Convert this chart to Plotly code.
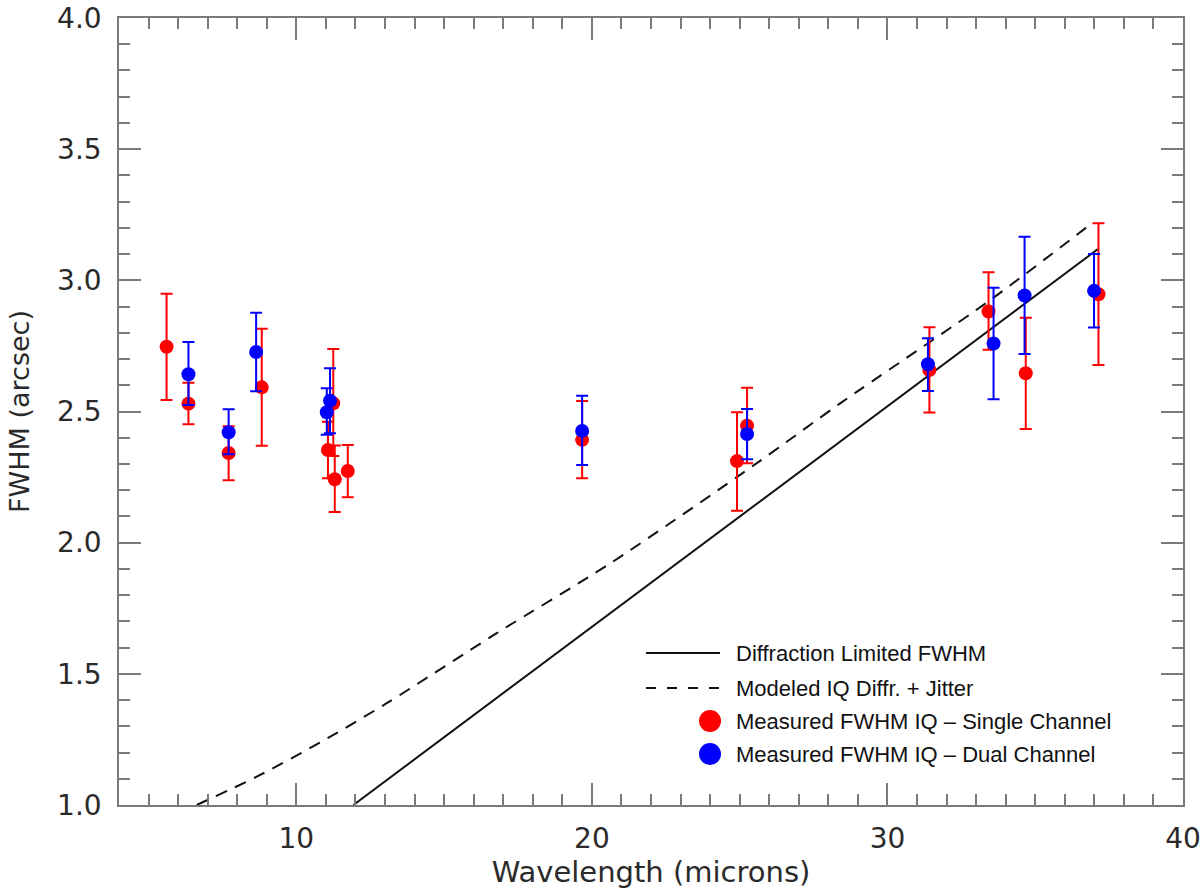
import plotly.graph_objects as go

# ---- data ----
single_x = [5.61, 6.35, 7.71, 8.83, 11.07, 11.25, 11.30, 11.74, 19.67, 24.91, 25.25, 31.42, 33.42, 34.68, 37.14]
single_y = [2.747, 2.530, 2.342, 2.592, 2.353, 2.531, 2.242, 2.273, 2.392, 2.311, 2.446, 2.658, 2.881, 2.646, 2.947]
single_hi = [2.949, 2.610, 2.444, 2.815, 2.461, 2.738, 2.370, 2.372, 2.540, 2.497, 2.591, 2.821, 3.031, 2.857, 3.218]
single_lo = [2.544, 2.451, 2.238, 2.369, 2.246, 2.330, 2.117, 2.173, 2.246, 2.122, 2.303, 2.496, 2.735, 2.433, 2.677]

dual_x = [6.35, 7.71, 8.64, 11.03, 11.14, 19.67, 25.25, 31.37, 33.59, 34.64, 36.99]
dual_y = [2.642, 2.421, 2.727, 2.497, 2.541, 2.426, 2.414, 2.680, 2.759, 2.942, 2.960]
dual_hi = [2.765, 2.509, 2.876, 2.589, 2.665, 2.560, 2.510, 2.779, 2.972, 3.166, 3.100]
dual_lo = [2.525, 2.337, 2.577, 2.411, 2.417, 2.296, 2.318, 2.578, 2.547, 2.719, 2.820]

diff_x = [11.93, 14.81, 30.32, 37.12]
diff_y = [1.000, 1.242, 2.547, 3.119]

model_x = [6.63, 8.66, 10.80, 13.06, 16.78, 20.62, 25.58, 28.40, 33.48, 36.84]
model_y = [1.000, 1.108, 1.238, 1.388, 1.655, 1.921, 2.303, 2.531, 2.925, 3.211]

legend_labels = ["Diffraction Limited FWHM", "Modeled IQ Diffr. + Jitter",
                 "Measured FWHM IQ \u2013 Single Channel", "Measured FWHM IQ \u2013 Dual Channel"]

x_ticks = [10, 20, 30, 40]
y_ticks = [1.0, 1.5, 2.0, 2.5, 3.0, 3.5, 4.0]

RED = "#ff0000"
BLUE = "#0000ff"
AXIS = "#7a7a7a"
TXT = "#2a2a2a"
AXFONT = "DejaVu Sans, Verdana, sans-serif"

fig = go.Figure()

fig.add_trace(go.Scatter(x=diff_x, y=diff_y, mode="lines",
                         line=dict(color="#111111", width=2), showlegend=False))
fig.add_trace(go.Scatter(x=model_x, y=model_y, mode="lines",
                         line=dict(color="#111111", width=2, dash="12px,9px", shape="spline", smoothing=0.8),
                         showlegend=False))

fig.add_trace(go.Scatter(
    x=single_x, y=single_y, mode="markers",
    marker=dict(color=RED, size=14, line=dict(width=0)),
    error_y=dict(type="data", symmetric=False,
                 array=[h - v for h, v in zip(single_hi, single_y)],
                 arrayminus=[v - l for v, l in zip(single_y, single_lo)],
                 color=RED, thickness=2, width=6),
    showlegend=False))

fig.add_trace(go.Scatter(
    x=dual_x, y=dual_y, mode="markers",
    marker=dict(color=BLUE, size=14, line=dict(width=0)),
    error_y=dict(type="data", symmetric=False,
                 array=[h - v for h, v in zip(dual_hi, dual_y)],
                 arrayminus=[v - l for v, l in zip(dual_y, dual_lo)],
                 color=BLUE, thickness=2, width=6),
    showlegend=False))

# ---- manual legend (paper coordinates) ----
L, R, T, B = 119, 1183, 18, 805
W, H = R - L, B - T
def px(xp):
    return (xp - L) / W
def py(yp):
    return (B - yp) / H

rows = [653, 688, 721, 754]
shapes = []
annotations = []
shapes.append(dict(type="line", xref="paper", yref="paper", x0=px(646), x1=px(720),
                   y0=py(rows[0]), y1=py(rows[0]), line=dict(color="#111111", width=2)))
shapes.append(dict(type="line", xref="paper", yref="paper", x0=px(646), x1=px(720),
                   y0=py(rows[1]), y1=py(rows[1]), line=dict(color="#111111", width=2, dash="10px,11px")))
for r, c in zip(rows[2:], [RED, BLUE]):
    shapes.append(dict(type="circle", xref="paper", yref="paper", xsizemode="pixel", ysizemode="pixel",
                       xanchor=px(710), yanchor=py(r), x0=-11, x1=11, y0=-11, y1=11,
                       fillcolor=c, line=dict(width=0)))
for r, lab in zip(rows, legend_labels):
    annotations.append(dict(xref="paper", yref="paper", x=px(734), y=py(r), text=lab,
                            showarrow=False, xanchor="left", yanchor="middle",
                            font=dict(family="Liberation Sans, Arial, sans-serif", size=22, color="#111111")))

axis_common = dict(
    showgrid=False, zeroline=False, showline=True, linecolor=AXIS, linewidth=1.5,
    mirror="allticks", ticks="inside", ticklen=22, tickwidth=1.5, tickcolor=AXIS,
    tickfont=dict(family=AXFONT, size=28, color=TXT),
)

fig.update_xaxes(
    range=[4, 40], tickvals=x_ticks, ticktext=[str(v) for v in x_ticks],
    minor=dict(dtick=1, tick0=0, ticks="inside", ticklen=11, tickwidth=1.5, tickcolor=AXIS),
    title=dict(text="Wavelength (microns)", standoff=12,
               font=dict(family=AXFONT, size=29, color=TXT)),
    automargin=False, ticklabelstandoff=8, **axis_common)

fig.update_yaxes(
    range=[1.0, 4.0], tickvals=y_ticks, ticktext=[f"{v:.1f}" for v in y_ticks],
    minor=dict(dtick=0.1, tick0=0, ticks="inside", ticklen=11, tickwidth=1.5, tickcolor=AXIS),
    title=dict(text="FWHM (arcsec)", standoff=20,
               font=dict(family=AXFONT, size=27, color=TXT)),
    automargin=False, ticklabelstandoff=10, **axis_common)

fig.update_layout(
    width=1202, height=889,
    margin=dict(l=L, r=1202 - R, t=T, b=889 - B, pad=0),
    paper_bgcolor="white", plot_bgcolor="white",
    shapes=shapes, annotations=annotations, showlegend=False,
)

fig.write_html("out.html", config={"displayModeBar": False},
               post_script="document.body.style.margin='0';document.body.style.overflow='hidden';")
